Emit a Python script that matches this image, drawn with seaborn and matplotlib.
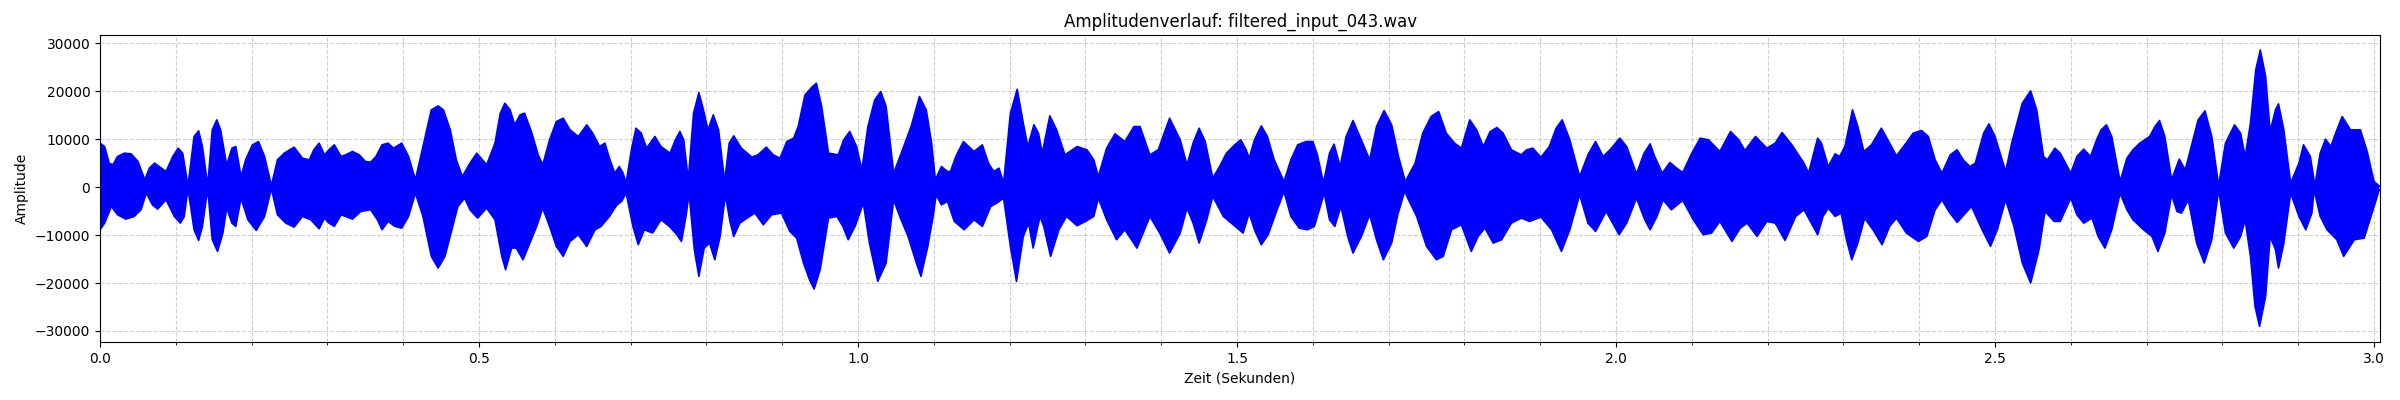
import matplotlib
matplotlib.use("Agg")
import matplotlib.pyplot as plt
from matplotlib.ticker import MultipleLocator
import seaborn as sns
import numpy as np

# Envelope of the waveform (seconds, amplitude)
upper_time = [
    0.000, 0.006, 0.012, 0.017, 0.023, 0.032, 0.041, 0.050, 0.059, 0.065,
    0.072, 0.078, 0.087, 0.096, 0.103, 0.109, 0.116, 0.124, 0.130, 0.135,
    0.142, 0.148, 0.154, 0.159, 0.167, 0.174, 0.179, 0.186, 0.192, 0.201,
    0.209, 0.217, 0.226, 0.234, 0.243, 0.256, 0.267, 0.276, 0.282, 0.289,
    0.296, 0.302, 0.309, 0.318, 0.324, 0.333, 0.342, 0.350, 0.357, 0.364,
    0.372, 0.380, 0.387, 0.398, 0.407, 0.416, 0.426, 0.437, 0.446, 0.453,
    0.462, 0.470, 0.478, 0.488, 0.497, 0.510, 0.521, 0.528, 0.534, 0.541,
    0.547, 0.554, 0.560, 0.569, 0.578, 0.584, 0.593, 0.602, 0.611, 0.620,
    0.631, 0.642, 0.650, 0.659, 0.666, 0.672, 0.679, 0.685, 0.690, 0.694,
    0.701, 0.707, 0.714, 0.721, 0.732, 0.740, 0.749, 0.752, 0.759, 0.765,
    0.770, 0.776, 0.783, 0.790, 0.796, 0.802, 0.809, 0.816, 0.824, 0.830,
    0.836, 0.846, 0.860, 0.868, 0.879, 0.888, 0.897, 0.906, 0.915, 0.921,
    0.930, 0.939, 0.945, 0.952, 0.961, 0.974, 0.981, 0.989, 0.998, 1.005,
    1.013, 1.022, 1.030, 1.037, 1.047, 1.057, 1.070, 1.081, 1.090, 1.097,
    1.102, 1.110, 1.118, 1.122, 1.129, 1.139, 1.146, 1.153, 1.164, 1.172,
    1.179, 1.186, 1.192, 1.201, 1.210, 1.218, 1.224, 1.232, 1.238, 1.243,
    1.253, 1.262, 1.273, 1.289, 1.302, 1.311, 1.317, 1.328, 1.339, 1.352,
    1.364, 1.372, 1.385, 1.396, 1.411, 1.425, 1.434, 1.442, 1.450, 1.458,
    1.468, 1.477, 1.486, 1.497, 1.505, 1.512, 1.516, 1.523, 1.532, 1.540,
    1.549, 1.562, 1.571, 1.580, 1.591, 1.600, 1.606, 1.614, 1.622, 1.628,
    1.636, 1.644, 1.653, 1.662, 1.675, 1.684, 1.694, 1.704, 1.713, 1.722,
    1.735, 1.745, 1.756, 1.766, 1.776, 1.787, 1.796, 1.807, 1.816, 1.825,
    1.834, 1.843, 1.851, 1.862, 1.875, 1.882, 1.890, 1.901, 1.912, 1.921,
    1.929, 1.939, 1.952, 1.963, 1.973, 1.983, 1.992, 2.005, 2.014, 2.027,
    2.037, 2.045, 2.051, 2.061, 2.071, 2.080, 2.088, 2.100, 2.111, 2.122,
    2.137, 2.151, 2.162, 2.170, 2.184, 2.199, 2.210, 2.219, 2.232, 2.248,
    2.254, 2.266, 2.271, 2.280, 2.289, 2.295, 2.302, 2.312, 2.319, 2.327,
    2.337, 2.350, 2.361, 2.370, 2.381, 2.392, 2.403, 2.412, 2.421, 2.430,
    2.441, 2.450, 2.458, 2.467, 2.474, 2.485, 2.492, 2.500, 2.514, 2.522,
    2.536, 2.547, 2.555, 2.564, 2.569, 2.579, 2.586, 2.600, 2.608, 2.617,
    2.626, 2.634, 2.640, 2.647, 2.654, 2.665, 2.674, 2.682, 2.691, 2.704,
    2.711, 2.717, 2.724, 2.733, 2.743, 2.751, 2.760, 2.768, 2.777, 2.786,
    2.795, 2.804, 2.816, 2.824, 2.830, 2.837, 2.844, 2.850, 2.857, 2.863,
    2.870, 2.874, 2.881, 2.890, 2.901, 2.907, 2.916, 2.922, 2.929, 2.936,
    2.943, 2.951, 2.958, 2.969, 2.982, 2.991, 3.000, 3.007,
]
upper_amp = [
    9170, 8470, 5000, 4650, 6390, 7080, 6940, 5350, 1530, 3960,
    5000, 4300, 3260, 6390, 8130, 7080, 300, 10560, 11740, 8470,
    300, 11940, 14030, 11940, 4650, 8130, 8470, 2220, 5690, 8820,
    9510, 6390, 300, 5690, 7080, 8330, 6040, 5690, 7780, 9170,
    6740, 7780, 8820, 6390, 6740, 7430, 6740, 5350, 5210, 6390,
    8820, 9170, 8130, 9170, 6390, 1530, 8470, 16110, 16940, 16110,
    11940, 5690, 2220, 5000, 7080, 4650, 9170, 15420, 17500, 16110,
    12990, 15070, 15420, 11600, 6740, 4650, 9860, 13680, 14370, 11940,
    10560, 12990, 11250, 8470, 9170, 6040, 2920, 4300, 2920, 830,
    7780, 12290, 11250, 8130, 10560, 8470, 7430, 7080, 9860, 11600,
    9860, 1530, 15420, 19720, 16110, 11940, 15070, 11940, 1180, 9170,
    10690, 8130, 6250, 6740, 8330, 6740, 6040, 9510, 10210, 12640,
    19240, 20830, 21670, 16800, 7080, 6740, 9860, 11600, 8470, 3610,
    12640, 18190, 19930, 16800, 2920, 7080, 12640, 18890, 16110, 9170,
    1530, 4300, 3260, 3260, 6390, 9510, 8470, 7430, 8820, 5000,
    3260, 3960, 830, 15420, 20420, 13330, 8470, 12990, 11250, 7080,
    14860, 11940, 6740, 8470, 7780, 5690, 2220, 8130, 11110, 9510,
    12640, 12640, 6740, 7780, 14370, 9860, 4650, 9170, 12290, 9510,
    1880, 4300, 7080, 8820, 9860, 7780, 6040, 9860, 12780, 10560,
    5690, 1180, 5690, 8820, 9510, 9510, 6740, 830, 7080, 8960,
    4300, 10560, 13890, 10560, 5690, 12640, 15970, 12990, 6390, 1180,
    5000, 11250, 14720, 15760, 11250, 9170, 8130, 14030, 11940, 8470,
    11600, 12430, 11250, 7780, 6740, 7780, 8130, 6250, 8470, 12290,
    14030, 9860, 2220, 6740, 9510, 6390, 7780, 10210, 8470, 2780,
    7080, 9030, 6390, 2920, 5140, 3960, 3060, 7080, 10210, 9860,
    7430, 11600, 9860, 7640, 10560, 8130, 9170, 11390, 8820, 5000,
    2920, 10210, 9170, 4300, 6940, 6390, 8470, 16110, 12640, 7430,
    8820, 12290, 9170, 6530, 8820, 11250, 11810, 10560, 5690, 2920,
    6740, 7780, 5690, 4300, 5000, 11250, 13190, 10560, 3260, 9170,
    17500, 20070, 16110, 6390, 5690, 8130, 7080, 2920, 6390, 7920,
    6390, 9860, 11940, 12990, 10560, 1180, 6040, 7780, 9170, 10560,
    12640, 13890, 10560, 1530, 5830, 3610, 9170, 14030, 15900, 10560,
    300, 9170, 12990, 11250, 6390, 13330, 24440, 28610, 23060, 11600,
    16110, 17360, 11940, 830, 5000, 8820, 6390, 300, 7080, 10000,
    8470, 11940, 14720, 11940, 11940, 7430, 1180, 200,
]

lower_time = [
    0.000, 0.006, 0.015, 0.023, 0.034, 0.045, 0.054, 0.061, 0.069, 0.076,
    0.087, 0.098, 0.106, 0.111, 0.116, 0.124, 0.130, 0.135, 0.142, 0.148,
    0.155, 0.162, 0.167, 0.174, 0.179, 0.186, 0.195, 0.206, 0.217, 0.226,
    0.234, 0.245, 0.256, 0.267, 0.278, 0.289, 0.296, 0.302, 0.309, 0.318,
    0.333, 0.344, 0.357, 0.366, 0.372, 0.380, 0.389, 0.398, 0.407, 0.416,
    0.426, 0.437, 0.446, 0.455, 0.464, 0.472, 0.481, 0.488, 0.498, 0.510,
    0.521, 0.530, 0.535, 0.543, 0.549, 0.558, 0.567, 0.576, 0.584, 0.593,
    0.602, 0.611, 0.620, 0.631, 0.642, 0.653, 0.661, 0.672, 0.682, 0.688,
    0.694, 0.703, 0.710, 0.718, 0.729, 0.740, 0.751, 0.761, 0.767, 0.773,
    0.777, 0.784, 0.790, 0.797, 0.804, 0.811, 0.818, 0.825, 0.831, 0.836,
    0.844, 0.857, 0.864, 0.875, 0.886, 0.899, 0.910, 0.919, 0.928, 0.936,
    0.942, 0.950, 0.961, 0.972, 0.980, 0.987, 0.996, 1.007, 1.015, 1.026,
    1.037, 1.047, 1.055, 1.066, 1.077, 1.083, 1.092, 1.099, 1.103, 1.110,
    1.118, 1.127, 1.140, 1.153, 1.164, 1.175, 1.183, 1.192, 1.201, 1.209,
    1.218, 1.225, 1.231, 1.240, 1.245, 1.254, 1.265, 1.275, 1.289, 1.300,
    1.311, 1.317, 1.328, 1.341, 1.352, 1.368, 1.385, 1.398, 1.411, 1.425,
    1.434, 1.442, 1.450, 1.460, 1.468, 1.482, 1.495, 1.508, 1.516, 1.523,
    1.532, 1.541, 1.552, 1.562, 1.571, 1.582, 1.593, 1.602, 1.615, 1.622,
    1.629, 1.637, 1.646, 1.653, 1.664, 1.675, 1.684, 1.693, 1.704, 1.712,
    1.721, 1.737, 1.750, 1.763, 1.772, 1.783, 1.796, 1.809, 1.818, 1.827,
    1.838, 1.849, 1.862, 1.875, 1.886, 1.901, 1.915, 1.928, 1.939, 1.952,
    1.963, 1.973, 1.987, 2.004, 2.014, 2.027, 2.038, 2.045, 2.054, 2.062,
    2.073, 2.088, 2.102, 2.115, 2.126, 2.137, 2.153, 2.164, 2.173, 2.186,
    2.199, 2.210, 2.223, 2.237, 2.248, 2.266, 2.273, 2.280, 2.289, 2.297,
    2.304, 2.311, 2.319, 2.328, 2.339, 2.351, 2.361, 2.370, 2.383, 2.399,
    2.410, 2.421, 2.430, 2.439, 2.450, 2.461, 2.469, 2.483, 2.494, 2.503,
    2.514, 2.525, 2.536, 2.547, 2.558, 2.566, 2.578, 2.586, 2.600, 2.608,
    2.617, 2.628, 2.636, 2.645, 2.654, 2.665, 2.674, 2.682, 2.696, 2.707,
    2.715, 2.724, 2.733, 2.740, 2.746, 2.755, 2.766, 2.776, 2.786, 2.795,
    2.804, 2.815, 2.824, 2.830, 2.837, 2.843, 2.849, 2.857, 2.863, 2.870,
    2.874, 2.881, 2.890, 2.901, 2.910, 2.918, 2.921, 2.929, 2.938, 2.951,
    2.960, 2.974, 2.987, 2.996, 3.007,
]
lower_amp = [
    -8890, -7500, -4030, -5760, -6670, -6110, -4720, -1250, -3680, -4580,
    -2640, -6110, -7500, -6110, -300, -8890, -11110, -8190, -300, -10970,
    -13400, -9580, -4380, -7500, -8190, -2290, -6810, -9030, -6110, -300,
    -5760, -7500, -8330, -6110, -6810, -8680, -6460, -7500, -8190, -5760,
    -6670, -5070, -4720, -6810, -8890, -7150, -8190, -8540, -6110, -1250,
    -6110, -14440, -16870, -14440, -8890, -4030, -2290, -4720, -6460, -4380,
    -6810, -14440, -17220, -12710, -12710, -15140, -11670, -8190, -4380, -8190,
    -12360, -14440, -11320, -9930, -12360, -8890, -8190, -6110, -3680, -2990,
    -1250, -8190, -12010, -8890, -9580, -6810, -8190, -9930, -11320, -6110,
    -1250, -13050, -18610, -12710, -11670, -15140, -10280, -1600, -7150, -10280,
    -7500, -6110, -5420, -7850, -5760, -5420, -9240, -10630, -15830, -19310,
    -21250, -17220, -6460, -6110, -8190, -10970, -8190, -3330, -11670, -19650,
    -15830, -2640, -6110, -10280, -15830, -18610, -12360, -6110, -1600, -3680,
    -2990, -7150, -8890, -6810, -8190, -4030, -3330, -2290, -12360, -19650,
    -10280, -7500, -12710, -6110, -8190, -14440, -8890, -6110, -8050, -7150,
    -6110, -2290, -6810, -10970, -8890, -12710, -6110, -9580, -13750, -9580,
    -4380, -7500, -11670, -6810, -1940, -6110, -7850, -9580, -5420, -8890,
    -12010, -9930, -5070, -900, -6110, -8540, -8890, -8190, -1250, -6810,
    -8190, -4030, -10280, -13750, -10280, -5760, -10970, -15140, -11670, -5760,
    -900, -6110, -12360, -15140, -14440, -8890, -7850, -13400, -10280, -8540,
    -11670, -10970, -7500, -6460, -7150, -6250, -8890, -13400, -8890, -1600,
    -7500, -9240, -5070, -9930, -7500, -2290, -6810, -8890, -6110, -2640,
    -4720, -2780, -6810, -9930, -9580, -7150, -11320, -8540, -7500, -10280,
    -7150, -7500, -11110, -6110, -4720, -9930, -6110, -4380, -6110, -5420,
    -10970, -15140, -11670, -6460, -8890, -12010, -8190, -6460, -9580, -11320,
    -10280, -4720, -2640, -5070, -7360, -5420, -4030, -8890, -12360, -8890,
    -2640, -8190, -15830, -20000, -13050, -5070, -7150, -7150, -2290, -5760,
    -7500, -6460, -10280, -12710, -8890, -1250, -4720, -6810, -8890, -10280,
    -13400, -9580, -1600, -5070, -5420, -2640, -11670, -15830, -10970, -550,
    -9580, -12710, -10280, -6810, -14440, -24860, -29030, -22780, -10280, -13050,
    -16870, -11670, -1250, -6110, -8890, -5420, -550, -6110, -8890, -10970,
    -14440, -10970, -10630, -6110, -550,
]

title = "Amplitudenverlauf: filtered_input_043.wav"
x_label = "Zeit (Sekunden)"
y_label = "Amplitude"
duration = 3.008

fig, ax = plt.subplots(figsize=(24, 4), dpi=100)
fig.subplots_adjust(left=0.0417, right=0.9917, bottom=0.145, top=0.9125)

# waveform body: polygon between upper and lower envelope
poly_t = np.concatenate([upper_time, lower_time[::-1]])
poly_a = np.concatenate([upper_amp, lower_amp[::-1]])
ax.fill(poly_t, poly_a, color="blue", linewidth=0)

# envelope edges
sns.lineplot(x=upper_time, y=upper_amp, ax=ax, color="blue", linewidth=1.2)
sns.lineplot(x=lower_time, y=lower_amp, ax=ax, color="blue", linewidth=1.2)

ax.set_title(title, fontsize=12)
ax.set_xlabel(x_label)
ax.set_ylabel(y_label)
ax.set_xlim(0, duration)
ax.set_ylim(-32300, 31730)
ax.xaxis.set_major_locator(MultipleLocator(0.5))
ax.xaxis.set_minor_locator(MultipleLocator(0.1))
ax.grid(True, which="both", linestyle="--", alpha=0.6)
ax.set_axisbelow(True)

fig.savefig("out.png", dpi=100)
